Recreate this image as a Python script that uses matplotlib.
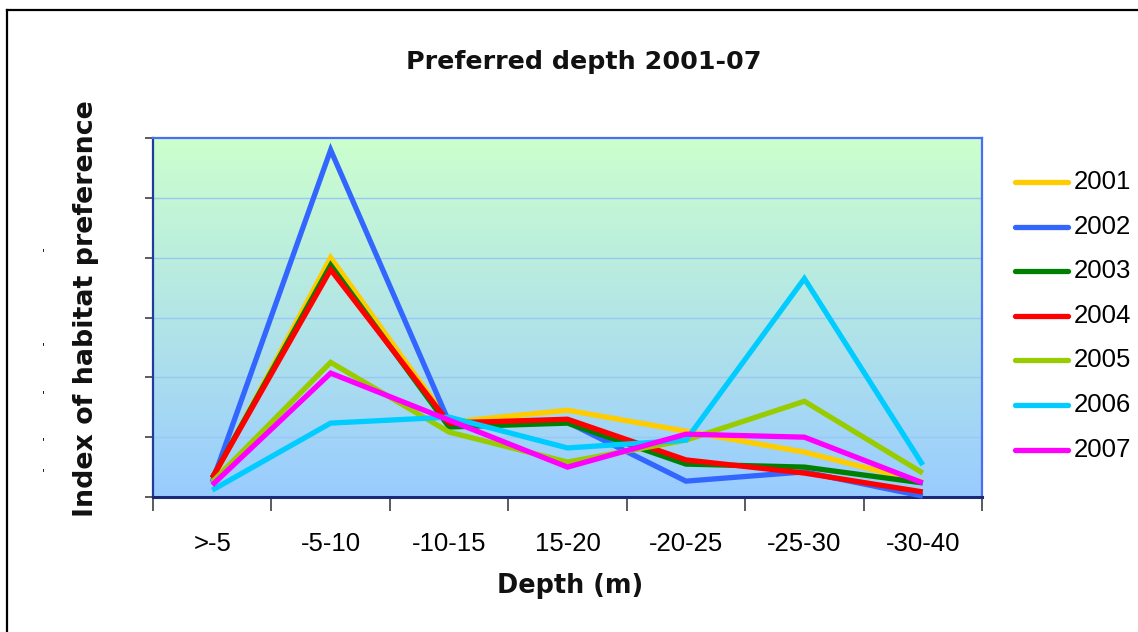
import matplotlib
matplotlib.use("Agg")
import matplotlib.pyplot as plt
import numpy as np
from matplotlib.lines import Line2D

categories = [">-5", "-5-10", "-10-15", "15-20", "-20-25", "-25-30", "-30-40"]
years = ["2001", "2002", "2003", "2004", "2005", "2006", "2007"]
v2001 = [0.057, 0.80, 0.25, 0.29, 0.22, 0.15, 0.05]
v2002 = [0.05, 1.16, 0.25, 0.25, 0.053, 0.084, 0.003]
v2003 = [0.064, 0.775, 0.234, 0.247, 0.11, 0.10, 0.047]
v2004 = [0.064, 0.76, 0.247, 0.26, 0.124, 0.08, 0.017]
v2005 = [0.05, 0.45, 0.217, 0.117, 0.19, 0.32, 0.08]
v2006 = [0.023, 0.247, 0.267, 0.164, 0.19, 0.73, 0.107]
v2007 = [0.04, 0.414, 0.257, 0.10, 0.21, 0.20, 0.047]
series = [v2001, v2002, v2003, v2004, v2005, v2006, v2007]
colors = ["#FFCC00", "#3366FF", "#008000", "#FF0000", "#99CC00", "#00CCFF", "#FF00FF"]

W, H = 1138, 632
fig = plt.figure(figsize=(W / 100, H / 100), dpi=100)
fig.patch.set_facecolor("white")

ax = fig.add_axes([153 / W, 1 - 497 / H, (982 - 153) / W, (497 - 138) / H])
ax.set_xlim(0, len(categories))
ax.set_ylim(0, 1.2)

# gradient background
top = np.array([204, 255, 204]) / 255
bot = np.array([153, 204, 255]) / 255
t = np.linspace(0, 1, 256)[:, None]
grad = (top[None, :] * (1 - t) + bot[None, :] * t)[:, None, :]
ax.imshow(grad, extent=[0, 1, 0, 1], transform=ax.transAxes, aspect="auto",
          zorder=0, interpolation="bilinear")

# gridlines
for yv in np.arange(0.2, 1.2, 0.2):
    ax.axhline(yv, color="#99C8F5", lw=1.0, zorder=1)

x = np.arange(len(categories)) + 0.5
for vals, c in zip(series, colors):
    ax.plot(x, vals, color=c, lw=3.8, zorder=3, solid_joinstyle="miter",
            solid_capstyle="butt", clip_on=False)

# ticks
ax.set_xticks(x)
ax.set_xticklabels(categories, fontfamily="Liberation Sans", fontsize=18.5)
ax.tick_params(axis="x", which="major", length=0, pad=25)
ax.set_xticks(np.arange(0, len(categories) + 1), minor=True)
ax.tick_params(axis="x", which="minor", length=10, width=1.2, color="#404040", direction="out")
ax.set_yticks(np.arange(0, 1.21, 0.2))
ax.set_yticklabels([])
ax.tick_params(axis="y", length=6, width=1.2, color="#404040", direction="out")

for s, col, lw in [("top", "#4A6CF7", 1.6), ("right", "#4A6CF7", 1.6),
                   ("left", "#203C9A", 1.6), ("bottom", "#1A2A78", 2.2)]:
    ax.spines[s].set_color(col)
    ax.spines[s].set_linewidth(lw)

# titles
fig.text(584 / W, 1 - 62 / H, "Preferred depth 2001-07", ha="center", va="center",
         fontsize=18.3, fontweight="bold", fontfamily="DejaVu Sans", color="#111111")
fig.text(570 / W, 1 - 586 / H, "Depth (m)", ha="center", va="center",
         fontsize=18.4, fontweight="bold", fontfamily="DejaVu Sans", color="#111111")
fig.text(86 / W, 1 - 309 / H, "Index of habitat preference", ha="center", va="center",
         rotation=90, fontsize=19.4, fontweight="bold", fontfamily="DejaVu Sans",
         color="#111111")

# stray marks where y tick labels would be
for yy in [253, 347, 395, 442, 473]:
    fig.text(43 / W, 1 - yy / H, "'", ha="center", va="center", fontsize=8, color="black")

# legend (manual)
leg_y0, leg_dy = 182, 44.6
for i, (yr, c) in enumerate(zip(years, colors)):
    yy = 1 - (leg_y0 + i * leg_dy) / H
    fig.add_artist(Line2D([1015 / W, 1068 / W], [yy, yy], color=c, lw=3.8,
                          solid_capstyle="round", transform=fig.transFigure))
    fig.text(1074 / W, yy, yr, ha="left", va="center", fontsize=18.5,
             fontfamily="Liberation Sans")

# outer frame (left and top)
fig.add_artist(Line2D([6.5 / W, 6.5 / W], [0, 1 - 10 / H], color="black", lw=1.6,
                      transform=fig.transFigure))
fig.add_artist(Line2D([6.5 / W, 1], [1 - 10 / H, 1 - 10 / H], color="black", lw=1.6,
                      transform=fig.transFigure))

fig.savefig("out.png", dpi=100, facecolor="white")
